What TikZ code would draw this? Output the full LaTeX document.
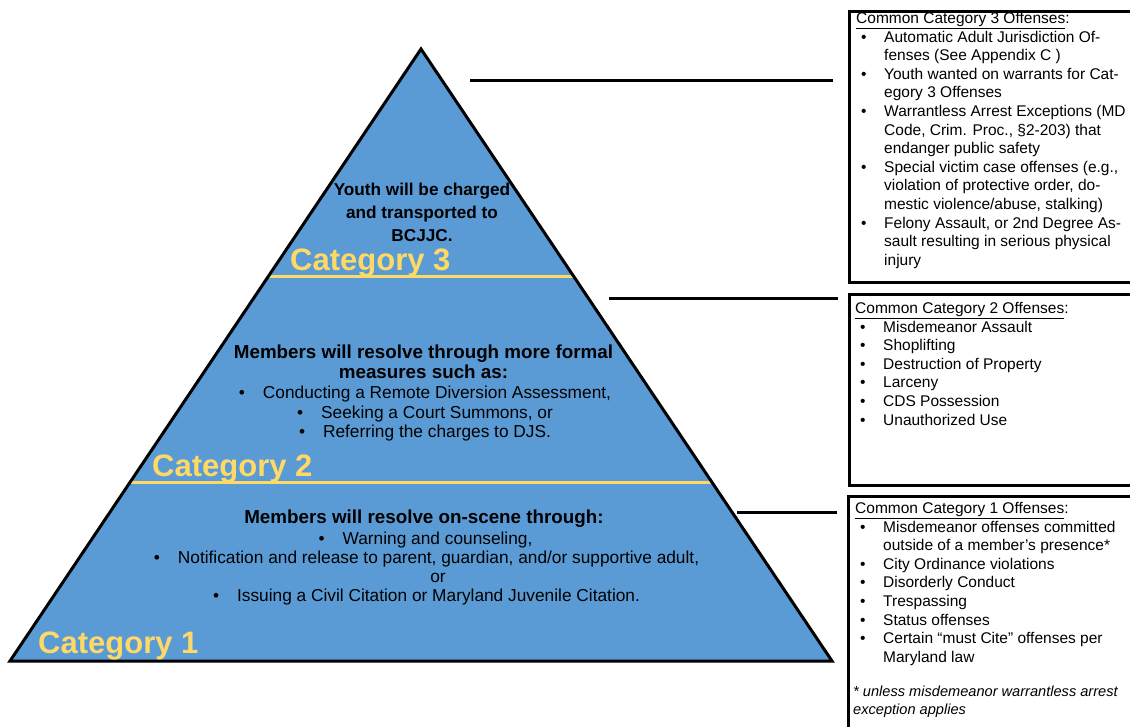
\documentclass[tikz,border=0pt]{standalone}
\usepackage{fontspec}
\setmainfont{Liberation Sans}
\usetikzlibrary{calc}
\definecolor{pyrblue}{HTML}{5B9BD5}
\definecolor{pyryellow}{HTML}{FFD966}
\newcommand\pbul{\textbullet\hspace{18pt}}
\newcommand\bxb{\hspace*{5pt}\makebox[23pt][l]{\textbullet}}
\newcommand\bxc{\hspace*{28pt}}
\begin{document}
\begin{tikzpicture}[x=1pt,y=-1pt,
  cat/.style={font=\fontsize{31}{31}\selectfont\bfseries, text=pyryellow, anchor=base west, inner sep=0pt},
  ptxt/.style={font=\fontsize{17.3}{19.5}\selectfont, anchor=base, inner sep=0pt},
  phead/.style={font=\fontsize{18.8}{19.5}\selectfont\bfseries, anchor=base, inner sep=0pt},
  ptop/.style={font=\fontsize{17.2}{22}\selectfont\bfseries, anchor=base, inner sep=0pt},
  btxt/.style={font=\fontsize{15.5}{18.6}\selectfont, anchor=north west, inner sep=0pt, align=left},
  note/.style={font=\fontsize{14.6}{18.2}\selectfont\itshape, anchor=north west, inner sep=0pt, align=left},
  conn/.style={line width=3pt},
  obox/.style={draw, line width=3pt, inner sep=0pt, anchor=north west},
  yline/.style={draw=pyryellow, line width=3pt}
]
\useasboundingbox (0,0) rectangle (1130,727);
\fill[white] (0,0) rectangle (1130,727);

% pyramid
\coordinate (apex) at (421,49);
\coordinate (bl) at (10,661);
\coordinate (br) at (832,661);
\fill[pyrblue] (bl) -- (apex) -- (br) -- cycle;
\draw[yline] ($(apex)!0.372!(bl)$) -- ($(apex)!0.372!(br)$);
\draw[yline] ($(apex)!0.708!(bl)$) -- ($(apex)!0.708!(br)$);
\draw[line width=3pt, line join=miter] (bl) -- (apex) -- (br) -- cycle;

% category labels
\node[cat] (cat3) at (290,271) {Category 3};
\node[cat] (cat2) at (152,476) {Category 2};
\node[cat] (cat1) at (38,653) {Category 1};

% top text
\node[ptop] (t1) at (422,196) {Youth will be charged};
\node[ptop] (t2) at (422,219) {and transported to};
\node[ptop] (t3) at (422,242) {BCJJC.};

% middle text
\node[phead] (m1) at (423.5,359) {Members will resolve through more formal};
\node[phead] (m2) at (423.5,378) {measures such as:};
\node[ptxt] (m3) at (425,398) {\pbul Conducting a Remote Diversion Assessment,};
\node[ptxt] (m4) at (425,418) {\pbul Seeking a Court Summons, or};
\node[ptxt] (m5) at (425,437) {\pbul Referring the charges to DJS.};

% bottom text
\node[phead] (b1) at (424,523) {Members will resolve on-scene through:};
\node[ptxt] (b2) at (425.5,544) {\pbul Warning and counseling,};
\node[ptxt] (b3) at (426.5,563) {\pbul Notification and release to parent, guardian, and/or supportive adult,};
\node[ptxt] (b4) at (438,582) {or};
\node[ptxt] (b5) at (426.5,601) {\pbul Issuing a Civil Citation or Maryland Juvenile Citation.};

% boxes
\begin{scope}
\clip (0,0) rectangle (1130,727);
\node[obox, minimum width=300pt, minimum height=271pt] (box3) at (848,10) {};
\node[obox, minimum width=300pt, minimum height=191pt] (box2) at (848,293) {};
\node[obox, minimum width=300pt, minimum height=260pt] (box1) at (847,495) {};
\end{scope}

% box texts
\node[btxt] (x3) at (856,12) {\underline{Common Category 3 Offenses}:\\
\bxb Automatic Adult Jurisdiction Of-\\
\bxc fenses (See Appendix C )\\
\bxb Youth wanted on warrants for Cat-\\
\bxc egory 3 Offenses\\
\bxb Warrantless Arrest Exceptions (MD\\
\bxc Code, Crim. Proc., §2-203) that\\
\bxc endanger public safety\\
\bxb Special victim case offenses (e.g.,\\
\bxc violation of protective order, do-\\
\bxc mestic violence/abuse, stalking)\\
\bxb Felony Assault, or 2nd Degree As-\\
\bxc sault resulting in serious physical\\
\bxc injury};

\node[btxt] (x2) at (855,302) {\underline{Common Category 2 Offenses}:\\
\bxb Misdemeanor Assault\\
\bxb Shoplifting\\
\bxb Destruction of Property\\
\bxb Larceny\\
\bxb CDS Possession\\
\bxb Unauthorized Use};

\node[btxt] (x1) at (855,502) {\underline{Common Category 1 Offenses}:\\
\bxb Misdemeanor offenses committed\\
\bxc outside of a member’s presence*\\
\bxb City Ordinance violations\\
\bxb Disorderly Conduct\\
\bxb Trespassing\\
\bxb Status offenses\\
\bxb Certain “must Cite” offenses per\\
\bxc Maryland law};

\node[note] (n1) at (853,686) {* unless misdemeanor warrantless arrest\\
exception applies};

% connectors
\coordinate (c3) at (470,81);
\coordinate (c2) at (609,299);
\coordinate (c1) at (737,512);
\draw[conn, shorten >=15pt] (c3) -- (c3 -| box3.west);
\draw[conn, shorten >=10pt] (c2) -- (c2 -| box2.west);
\draw[conn, shorten >=10pt] (c1) -- (c1 -| box1.west);
\end{tikzpicture}
\end{document}
